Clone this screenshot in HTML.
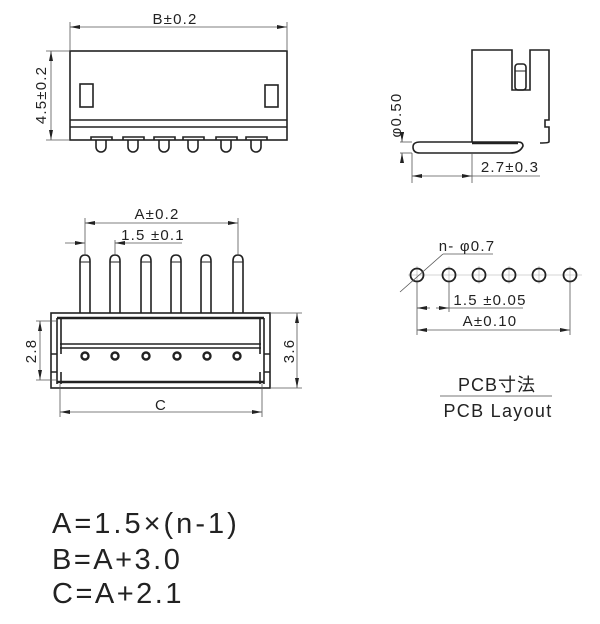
<!DOCTYPE html>
<html><head><meta charset="utf-8"><style>
html,body{margin:0;padding:0;background:#fff;}
svg{display:block;}
text{font-family:"Liberation Sans","Noto Sans CJK JP",sans-serif;fill:#222;}
.d{font-size:15px;letter-spacing:1.2px;}
</style></head><body>
<svg width="600" height="624" viewBox="0 0 600 624" xmlns="http://www.w3.org/2000/svg">
<defs>
<marker id="ar" markerWidth="10" markerHeight="6" refX="10" refY="3" orient="auto" markerUnits="userSpaceOnUse"><path d="M0,1 L10,3 L0,5 Z" fill="#222"/></marker>
<marker id="al" markerWidth="10" markerHeight="6" refX="0" refY="3" orient="auto" markerUnits="userSpaceOnUse"><path d="M10,1 L0,3 L10,5 Z" fill="#222"/></marker>
</defs>
<g stroke="#222" fill="none" stroke-width="1.6">
<rect x="70" y="51" width="217" height="89"/>
<line x1="70" y1="120" x2="287" y2="120"/>
<line x1="70" y1="127" x2="287" y2="127"/>
<rect x="80" y="84" width="13" height="23"/>
<rect x="265" y="85" width="13" height="22"/>
<g id="tp">
<path d="M91,140 V137 H112 V140"/>
<path d="M96,140 V147 A5,5 0 0 0 106,147 V140"/>
</g>
<use href="#tp" x="32"/><use href="#tp" x="63"/><use href="#tp" x="92"/><use href="#tp" x="125"/><use href="#tp" x="155"/>
</g>
<g stroke="#555" stroke-width="0.8" fill="none">
<line x1="70" y1="22" x2="70" y2="51"/><line x1="287" y1="22" x2="287" y2="51"/>
<line x1="70" y1="27" x2="287" y2="27" marker-start="url(#al)" marker-end="url(#ar)"/>
<line x1="46" y1="51" x2="70" y2="51"/><line x1="46" y1="140" x2="70" y2="140"/>
<line x1="51" y1="51" x2="51" y2="140" marker-start="url(#al)" marker-end="url(#ar)"/>
</g>
<text x="175" y="24" class="d" text-anchor="middle">B±0.2</text>
<text transform="translate(46,95) rotate(-90)" class="d" text-anchor="middle">4.5±0.2</text>

<g stroke="#222" fill="none" stroke-width="1.6">
<g id="fp"><path d="M80,313 V261 Q80,255 85,255 Q90,255 90,261 V313"/><line x1="80" y1="262" x2="90" y2="262" stroke-width="1"/></g>
<use href="#fp" x="30"/><use href="#fp" x="61"/><use href="#fp" x="91"/><use href="#fp" x="121"/><use href="#fp" x="153"/>
<rect x="51" y="313" width="219" height="75"/>
<line x1="57" y1="318" x2="264" y2="318" stroke-width="2.4"/>
<line x1="57" y1="382" x2="264" y2="382" stroke-width="2.4"/>
<line x1="60" y1="344" x2="261" y2="344"/>
<line x1="60" y1="348" x2="261" y2="348"/>
<path d="M57,318 V354 M61,318 V354 M51,354 H57 V372 H51 M57,372 V384 M61,372 V384"/>
<path d="M264,318 V354 M260,318 V354 M270,354 H264 V372 H270 M264,372 V384 M260,372 V384"/>
</g>
<g fill="none" stroke="#222" stroke-width="2.4">
<circle cx="85" cy="356" r="3.5"/><circle cx="115" cy="356" r="3.5"/><circle cx="146" cy="356" r="3.5"/><circle cx="177" cy="356" r="3.5"/><circle cx="207" cy="356" r="3.5"/><circle cx="237" cy="356" r="3.5"/>
</g>
<g stroke="#555" stroke-width="0.8" fill="none">
<line x1="85" y1="218" x2="85" y2="255"/><line x1="238" y1="218" x2="238" y2="255"/>
<line x1="85" y1="223" x2="238" y2="223" marker-start="url(#al)" marker-end="url(#ar)"/>
<line x1="115" y1="240" x2="115" y2="255"/>
<line x1="65" y1="243" x2="85" y2="243" marker-end="url(#ar)"/>
<line x1="115" y1="243" x2="182" y2="243" marker-start="url(#al)"/>
<line x1="36" y1="321" x2="57" y2="321"/><line x1="36" y1="380" x2="57" y2="380"/>
<line x1="40" y1="321" x2="40" y2="380" marker-start="url(#al)" marker-end="url(#ar)"/>
<line x1="270" y1="313" x2="302" y2="313"/><line x1="270" y1="388" x2="302" y2="388"/>
<line x1="297" y1="313" x2="297" y2="388" marker-start="url(#al)" marker-end="url(#ar)"/>
<line x1="60" y1="384" x2="60" y2="417"/><line x1="262" y1="384" x2="262" y2="417"/>
<line x1="60" y1="412" x2="262" y2="412" marker-start="url(#al)" marker-end="url(#ar)"/>
</g>
<text x="157" y="219" class="d" text-anchor="middle">A±0.2</text>
<text x="153" y="240" class="d" text-anchor="middle">1.5 ±0.1</text>
<text transform="translate(36,351) rotate(-90)" class="d" text-anchor="middle">2.8</text>
<text transform="translate(294,351) rotate(-90)" class="d" text-anchor="middle">3.6</text>
<text x="161" y="410" class="d" text-anchor="middle">C</text>

<g stroke="#222" fill="none" stroke-width="1.6">
<path d="M472,142 V50 H512 V90 H530 V50 H549 V120 H545 V127 H549 V142 Q549,143 540,143"/>
<rect x="515" y="64" width="11" height="26" rx="3"/>
<line x1="515" y1="71" x2="526" y2="71" stroke-width="1"/>
<path d="M420,142 H518 Q523,142 523,146 Q520,153 510,153 H420 Q413,153 413,147 Q413,142 420,142 Z"/>
<line x1="472" y1="143" x2="518" y2="143" stroke-width="2.4"/>
</g>
<g stroke="#555" stroke-width="0.8" fill="none">
<line x1="412" y1="153" x2="412" y2="183"/><line x1="472" y1="153" x2="472" y2="183"/>
<line x1="412" y1="176" x2="472" y2="176" marker-start="url(#al)" marker-end="url(#ar)"/>
<line x1="472" y1="176" x2="540" y2="176"/>
<line x1="400" y1="142" x2="412" y2="142"/><line x1="400" y1="153" x2="412" y2="153"/>
<line x1="402" y1="132" x2="402" y2="142" marker-end="url(#ar)"/>
<line x1="402" y1="163" x2="402" y2="153" marker-end="url(#ar)"/>
</g>
<text transform="translate(401,115) rotate(-90)" class="d" text-anchor="middle">φ0.50</text>
<text x="510" y="172" class="d" text-anchor="middle">2.7±0.3</text>

<g stroke="#aaa" stroke-width="0.6">
<line x1="408" y1="275" x2="582" y2="275"/>
<line x1="417" y1="266" x2="417" y2="284"/><line x1="449" y1="266" x2="449" y2="284"/><line x1="479" y1="266" x2="479" y2="284"/><line x1="509" y1="266" x2="509" y2="284"/><line x1="539" y1="266" x2="539" y2="284"/><line x1="570" y1="266" x2="570" y2="284"/>
</g>
<g fill="none" stroke="#222" stroke-width="1.8">
<circle cx="417" cy="275" r="6.5"/><circle cx="449" cy="275" r="6.5"/><circle cx="479" cy="275" r="6.5"/><circle cx="509" cy="275" r="6.5"/><circle cx="539" cy="275" r="6.5"/><circle cx="570" cy="275" r="6.5"/>
</g>
<g stroke="#555" stroke-width="0.8" fill="none">
<line x1="400" y1="292" x2="443" y2="254"/><line x1="443" y1="254" x2="493" y2="254"/>
<line x1="417" y1="282" x2="417" y2="335"/><line x1="449" y1="282" x2="449" y2="312"/><line x1="570" y1="282" x2="570" y2="335"/>
<line x1="417" y1="308" x2="430" y2="308" marker-start="url(#al)"/>
<line x1="436" y1="308" x2="449" y2="308" marker-end="url(#ar)"/>
<line x1="449" y1="308" x2="523" y2="308"/>
<line x1="417" y1="330" x2="570" y2="330" marker-start="url(#al)" marker-end="url(#ar)"/>
<line x1="440" y1="396" x2="552" y2="396" stroke="#777" stroke-width="1"/>
</g>
<text x="467" y="251" class="d" text-anchor="middle">n- φ0.7</text>
<text x="490" y="305" class="d" text-anchor="middle">1.5 ±0.05</text>
<text x="490" y="326" class="d" text-anchor="middle">A±0.10</text>
<text x="497" y="391" font-size="18" letter-spacing="1" text-anchor="middle">PCB寸法</text>
<text x="498" y="417" font-size="18" letter-spacing="1.3" text-anchor="middle">PCB Layout</text>

<text x="52" y="533" font-size="29" letter-spacing="3">A=1.5×(n-1)</text>
<text x="52" y="569" font-size="29" letter-spacing="2.5">B=A+3.0</text>
<text x="52" y="603" font-size="29" letter-spacing="2.5">C=A+2.1</text>
</svg>
</body></html>
